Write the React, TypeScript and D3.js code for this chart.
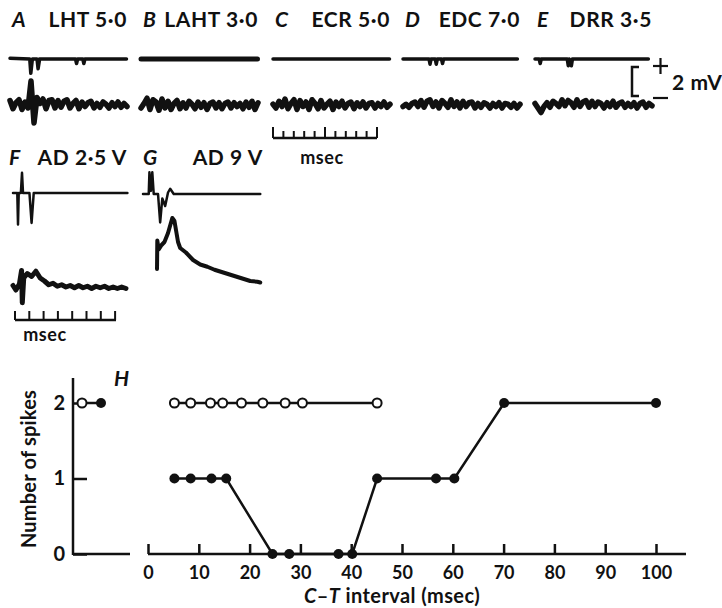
import React, { useEffect, useRef } from 'react';
import * as d3 from 'd3';

// ---- recordings (A-E): labels ----
const topLetters = ['A', 'B', 'C', 'D', 'E'];
const topNames = ['LHT 5·0', 'LAHT 3·0', 'ECR 5·0', 'EDC 7·0', 'DRR 3·5'];

// upper sweeps, [msec, mV]
const upperA = [[0, 0.05], [1.9, 0], [2.0, -0.95], [2.15, 0], [2.6, 0], [2.7, -0.65], [2.85, 0], [6.3, 0], [6.4, -0.3], [6.5, 0], [7.0, 0], [7.1, -0.3], [7.2, 0], [11.2, 0]];
const upperB = [[0, 0], [11.2, 0]];
const upperC = [[0, 0], [11.2, 0]];
const upperD = [[0, 0], [2.5, 0], [2.6, -0.35], [2.7, 0], [3.1, 0], [3.2, -0.35], [3.3, 0], [3.7, 0], [3.8, -0.3], [3.9, 0], [11.0, 0]];
const upperE = [[0, 0], [0.4, 0], [0.5, -0.3], [0.6, 0], [3.1, 0], [3.2, -0.45], [3.3, 0], [3.5, -0.45], [3.6, 0], [10.9, 0]];

// lower sweeps, mV sampled evenly across the sweep
const lowerA = [0.3, -0.25, 0.15, 0.35, -0.3, 0.2, -0.2, 1.6, -1.2, 0.5, 0.1, 0.4, -0.25, 0.3, 0.35, -0.2, 0.3, -0.15, 0.25, 0.35, -0.2, 0.1, 0.3, -0.25, 0.2, -0.1, 0.15, 0.25, -0.2, 0.1, -0.15, 0.2, 0.05, -0.2, 0.15, -0.1, 0.2, -0.15, 0.1, -0.1];
const lowerB = [-0.2, 0.1, 0.45, -0.3, 0.35, 0.2, -0.35, 0.4, -0.2, 0.25, -0.3, 0.1, 0.3, -0.25, 0.15, -0.2, 0.25, 0.05, -0.25, 0.2, -0.15, 0.15, -0.3, 0.1, 0.2, -0.2, 0.15, -0.25, 0.1, 0.2, -0.2, 0.15, -0.1, 0.1, -0.25, 0.2, -0.15, 0.25, -0.3, 0.15];
const lowerC = [0.05, -0.2, 0.25, -0.1, 0.4, -0.25, 0.1, 0.35, -0.3, 0.3, -0.1, 0.2, -0.3, 0.35, 0.1, -0.25, 0.3, -0.2, 0.05, 0.25, -0.3, 0.2, -0.1, 0.25, -0.2, 0.1, 0.2, -0.25, 0.15, -0.1, 0.2, -0.2, 0.1, 0.15, -0.2, 0.1, -0.1, 0.2, -0.15, 0.05];
const lowerD = [-0.1, 0.05, -0.15, 0.1, 0.2, -0.1, 0.3, -0.15, 0.25, 0.35, -0.1, 0.2, -0.2, 0.3, 0.1, -0.15, 0.35, -0.1, 0.2, -0.2, 0.25, -0.1, 0.15, 0.2, -0.2, 0.1, -0.15, 0.15, 0.05, -0.2, 0.1, -0.1, 0.15, -0.2, 0.1, 0.05, -0.15, 0.1, -0.2, 0.05];
const lowerE = [0.1, -0.2, -0.5, -0.1, 0.15, -0.15, 0.25, 0.1, -0.1, 0.35, -0.05, 0.3, 0.15, -0.15, 0.35, -0.1, 0.2, 0.3, -0.15, 0.25, -0.1, 0.2, 0.1, -0.2, 0.15, -0.1, 0.25, -0.15, 0.1, 0.2, -0.15, 0.1, -0.1, 0.15, -0.2, 0.1, 0.2, -0.15, 0.1, -0.05];

const uppers = [upperA, upperB, upperC, upperD, upperE];
const lowers = [lowerA, lowerB, lowerC, lowerD, lowerE];

// ---- antidromic (F, G) ----
const adLetters = ['F', 'G'];
const adNames = ['AD 2·5 V', 'AD 9 V'];
const upperF = [[0, 0], [0.3, 0], [0.35, -2.1], [0.4, 0], [0.55, 0], [0.63, 1.35], [0.7, 0], [1.15, 0], [1.3, -2.0], [1.45, 0], [8, 0]];
const lowerF = [[0, 0.1], [0.2, -0.2], [0.45, 0.2], [0.6, 1.1], [0.65, -1.05], [0.75, 0.6], [1.0, 0.9], [1.3, 0.7], [1.6, 1.05], [1.9, 0.6], [2.2, 0.4], [2.5, 0.15], [2.8, 0.25], [3.1, 0.05], [3.4, 0.15], [3.7, 0], [4.0, 0.1], [4.3, -0.05], [4.6, 0.1], [4.9, -0.05], [5.2, 0.05], [5.5, -0.1], [5.8, 0.05], [6.1, -0.05], [6.4, 0.05], [6.7, -0.1], [7.0, 0], [7.3, -0.1], [7.6, 0], [7.9, -0.1]];
const upperG = [[0, 0], [0.4, 0], [0.45, 1.45], [0.55, 0.2], [0.65, 1.45], [0.75, 0], [1.05, 0], [1.2, -1.9], [1.35, -0.3], [1.55, -0.8], [1.75, 0.1], [1.9, 0.35], [2.15, 0], [8.2, 0]];
const lowerG = [[0.98, 1.2], [1.0, 3.1], [1.1, 2.5], [1.3, 2.8], [1.5, 3.0], [1.75, 3.6], [2.05, 4.6], [2.2, 4.4], [2.45, 3.0], [2.6, 2.6], [3.0, 2.3], [3.5, 1.8], [4.0, 1.5], [4.5, 1.35], [5.0, 1.15], [5.5, 1.0], [6.0, 0.85], [6.5, 0.7], [7.0, 0.55], [7.5, 0.4], [8.0, 0.35], [8.2, 0.3]];

// ---- H: number of spikes vs C-T interval ----
const controlKinds = ['open', 'filled'];
const controlSpikes = [2, 2];
const openIntervals = [5.2, 8.4, 12.3, 14.7, 18.4, 22.6, 27.0, 30.4, 45.1];
const openSpikes = [2, 2, 2, 2, 2, 2, 2, 2, 2];
const filledIntervals = [5.2, 8.4, 12.5, 15.4, 24.5, 27.8, 37.5, 40.2, 45.1, 56.7, 60.3, 70.1, 100];
const filledSpikes = [1, 1, 1, 1, 0, 0, 0, 0, 1, 1, 1, 2, 2];
const xTicks = [0, 10, 20, 30, 40, 50, 60, 70, 80, 90, 100];
const yTicks = [0, 1, 2];

const FONT = 'Lato, "Open Sans", sans-serif';

function Sweep(props: { pts: number[][], x0: number, y0: number, pxMs: number, pxMv: number, sw: number }) {
    const x = d3.scaleLinear().domain([0, 1]).range([props.x0, props.x0 + props.pxMs]);
    const y = d3.scaleLinear().domain([0, 1]).range([props.y0, props.y0 - props.pxMv]);
    const line = d3.line<number[]>().x(d => x(d[0])).y(d => y(d[1]));
    return <path d={line(props.pts) || ''} fill="none" stroke="#111" strokeWidth={props.sw} strokeLinejoin="round" strokeLinecap="round" />;
}

function evenPts(vals: number[], duration: number) {
    const t = d3.scaleLinear().domain([0, vals.length - 1]).range([0, duration]);
    return vals.map((v, i) => [t(i), v]);
}

export default function App() {
    const xAxisRef = useRef<SVGGElement>(null);
    const yAxisRef = useRef<SVGGElement>(null);

    // layout
    const panelX = [10, 141, 273, 403, 535];
    const panelW = 117;
    const topPxMs = 10.4, pxMv = 15;
    const adX = [13, 143];
    const adPxMs = 14.3;

    const x = d3.scaleLinear().domain([0, 100]).range([148, 656]);
    const y = d3.scaleLinear().domain([0, 2]).range([554, 403]);
    const xc = d3.scalePoint().domain(controlKinds).range([82, 101]);
    const yAxisX = 73;

    useEffect(() => {
        const gx = d3.select(xAxisRef.current);
        gx.selectAll('*').remove();
        gx.call(d3.axisBottom(x).tickValues(xTicks).tickSizeInner(-10).tickSizeOuter(0).tickPadding(12).tickFormat(d3.format('d')));
        gx.select('.domain').remove();
        gx.selectAll('line').attr('stroke', '#111').attr('stroke-width', 2.5);
        gx.selectAll('text').attr('font-family', FONT).attr('font-weight', 700).attr('font-size', 18).attr('fill', '#111');

        const gy = d3.select(yAxisRef.current);
        gy.selectAll('*').remove();
        gy.call(d3.axisLeft(y).tickValues(yTicks).tickSizeInner(-14).tickSizeOuter(0).tickPadding(8).tickFormat(d3.format('d')));
        gy.select('.domain').remove();
        gy.selectAll('line').attr('stroke', '#111').attr('stroke-width', 2.5);
        gy.selectAll('text').attr('font-family', FONT).attr('font-weight', 700).attr('font-size', 20).attr('fill', '#111');
    }, []);

    const openPts = openIntervals.map((d, i) => [d, openSpikes[i]]);
    const filledPts = filledIntervals.map((d, i) => [d, filledSpikes[i]]);
    const line = d3.line<number[]>().x(d => x(d[0])).y(d => y(d[1]));

    const labelStyle = { fontFamily: FONT, fontWeight: 700, fontSize: 21, fill: '#111', letterSpacing: 0.6 } as any;

    return (
        <svg width={722} height={608} style={{ position: 'absolute', left: 0, top: 0, background: '#fff' }}>
            {/* A-E */}
            {topLetters.map((l, i) => (
                <g key={l}>
                    <text x={panelX[i] + 2} y={27} style={labelStyle} fontStyle="italic">{l}</text>
                    <text x={panelX[i] + panelW} y={27} style={labelStyle} textAnchor="end">{topNames[i]}</text>
                    <Sweep pts={uppers[i]} x0={panelX[i]} y0={59} pxMs={topPxMs} pxMv={pxMv} sw={i === 1 ? 5 : 3.5} />
                    <Sweep pts={evenPts(lowers[i], panelW / topPxMs)} x0={panelX[i]} y0={105} pxMs={topPxMs} pxMv={pxMv} sw={5.5} />
                </g>
            ))}

            {/* 2 mV calibration */}
            <path d="M639,67 H632 V96 H639" fill="none" stroke="#111" strokeWidth={2.5} />
            <g stroke="#111" strokeWidth={2.2}>
                <line x1={653} x2={668} y1={66} y2={66} />
                <line x1={660.5} x2={660.5} y1={58} y2={74} />
                <line x1={653} x2={668} y1={98} y2={98} />
            </g>
            <text x={672} y={90} style={labelStyle}>2 mV</text>

            {/* time bar under C */}
            <g stroke="#111" strokeWidth={2}>
                <line x1={273} x2={377} y1={138} y2={138} strokeWidth={2.5} />
                {d3.range(11).map(k => (
                    <line key={k} x1={273 + k * 10.4} x2={273 + k * 10.4} y1={138} y2={k % 5 === 0 ? 127 : 131} />
                ))}
            </g>
            <text x={322} y={164} style={{ ...labelStyle, fontSize: 18 }} textAnchor="middle">msec</text>

            {/* F, G */}
            <text x={9} y={165} style={labelStyle} fontStyle="italic">{adLetters[0]}</text>
            <text x={127} y={165} style={labelStyle} textAnchor="end">{adNames[0]}</text>
            <text x={143} y={165} style={labelStyle} fontStyle="italic">{adLetters[1]}</text>
            <text x={263} y={165} style={labelStyle} textAnchor="end">{adNames[1]}</text>
            <Sweep pts={upperF} x0={adX[0]} y0={193} pxMs={adPxMs} pxMv={pxMv} sw={2.5} />
            <Sweep pts={lowerF} x0={adX[0]} y0={287} pxMs={adPxMs} pxMv={pxMv} sw={5} />
            <Sweep pts={upperG} x0={adX[1]} y0={194} pxMs={adPxMs} pxMv={pxMv} sw={2.5} />
            <Sweep pts={lowerG} x0={adX[1]} y0={287} pxMs={adPxMs} pxMv={pxMv} sw={4} />

            {/* time bar under F */}
            <g stroke="#111" strokeWidth={2}>
                <line x1={15} x2={116} y1={320} y2={320} strokeWidth={2.5} />
                {d3.range(8).map(k => (
                    <line key={k} x1={15 + k * 14.3} x2={15 + k * 14.3} y1={320} y2={311} />
                ))}
            </g>
            <text x={45} y={341} style={{ ...labelStyle, fontSize: 18 }} textAnchor="middle">msec</text>

            {/* H */}
            <text x={114} y={386} style={labelStyle} fontStyle="italic">H</text>
            <line x1={yAxisX} x2={yAxisX} y1={378} y2={y(0) + 1} stroke="#111" strokeWidth={2.5} />
            <line x1={yAxisX} x2={130} y1={y(0)} y2={y(0)} stroke="#111" strokeWidth={2.5} />
            <g ref={yAxisRef} transform={`translate(${yAxisX},0)`} />
            <line x1={x(0)} x2={686} y1={y(0)} y2={y(0)} stroke="#111" strokeWidth={2.5} />
            <g ref={xAxisRef} transform={`translate(0,${y(0)})`} />

            <path d={d3.line<number[]>().x(d => xc(controlKinds[d[0]]) as number).y(d => y(d[1]))([[0, controlSpikes[0]], [1, controlSpikes[1]]]) || ''} stroke="#111" strokeWidth={2.5} fill="none" />
            <circle cx={xc('open')} cy={y(controlSpikes[0])} r={4.5} fill="#fff" stroke="#111" strokeWidth={2} />
            <circle cx={xc('filled')} cy={y(controlSpikes[1])} r={5} fill="#111" />

            <path d={line(openPts) || ''} fill="none" stroke="#111" strokeWidth={2.5} />
            <path d={line(filledPts) || ''} fill="none" stroke="#111" strokeWidth={2.5} />
            {openPts.map((d, i) => (
                <circle key={'o' + i} cx={x(d[0])} cy={y(d[1])} r={4.5} fill="#fff" stroke="#111" strokeWidth={2} />
            ))}
            {filledPts.map((d, i) => (
                <circle key={'f' + i} cx={x(d[0])} cy={y(d[1])} r={5} fill="#111" />
            ))}

            <text transform="translate(36,469) rotate(-90)" style={{ ...labelStyle, fontSize: 20, letterSpacing: 0.2 }} textAnchor="middle">Number of spikes</text>
            <text x={392} y={603} style={{ ...labelStyle, fontSize: 20, letterSpacing: 0.4 }} textAnchor="middle">
                <tspan fontStyle="italic">C</tspan>–<tspan fontStyle="italic">T</tspan> interval (msec)
            </text>
        </svg>
    );
}
